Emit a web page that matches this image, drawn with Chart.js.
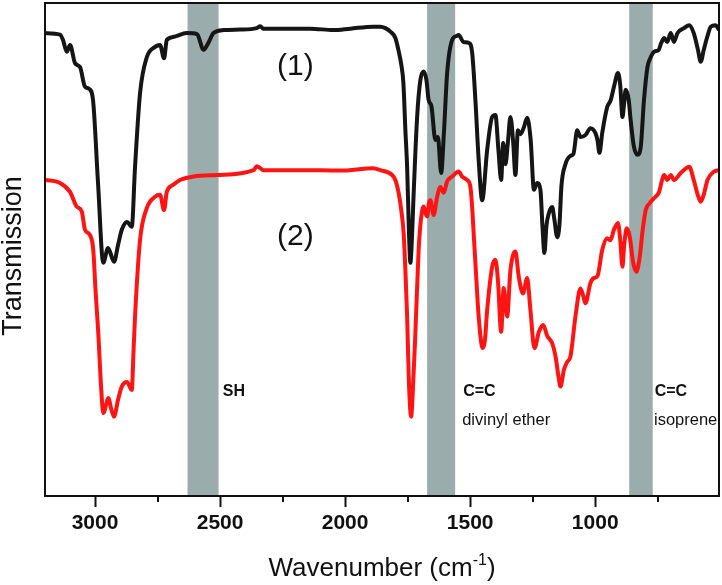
<!DOCTYPE html>
<html>
<head>
<meta charset="utf-8">
<script src="https://cdn.jsdelivr.net/npm/chart.js@4"></script>
<style>
  body { margin: 0; background: #fff; }
</style>
</head>
<body>
<canvas id="ftir" width="722" height="585"></canvas>
<script>
// Spectrum (1): wavenumber (cm-1) and transmission (arbitrary units, 0-100)
const wavenumbers1 = [3200, 3140, 3128, 3113, 3100, 3080, 3060, 3040, 3024, 3008, 2988, 2967, 2948, 2924, 2908, 2893, 2872, 2853, 2840, 2820,
  2793, 2760, 2740, 2724, 2713, 2688, 2633, 2592, 2566, 2547, 2526, 2486, 2419, 2353, 2339, 2327, 2259, 2139, 2047, 1979,
  1887, 1859, 1839, 1819, 1799, 1787, 1775, 1767, 1759, 1752, 1745, 1739, 1733, 1727, 1712, 1699, 1686, 1675, 1666, 1655,
  1639, 1629, 1616, 1605, 1592, 1572, 1555, 1546, 1527, 1505, 1492, 1479, 1466, 1452, 1432, 1412, 1399, 1387, 1376, 1368,
  1359, 1349, 1339, 1328, 1319, 1309, 1299, 1285, 1272, 1258, 1245, 1232, 1219, 1211, 1203, 1195, 1185, 1172, 1163, 1152,
  1143, 1135, 1119, 1099, 1087, 1072, 1059, 1039, 1019, 999, 991, 983, 972, 952, 938, 925, 909, 900, 891, 885,
  878, 866, 858, 845, 831, 818, 805, 791, 778, 765, 746, 736, 724, 712, 698, 685, 671, 645, 624, 606,
  590, 578, 566, 551, 538, 518, 505];
const transmission1 = [93.9, 93.6, 92.5, 90.1, 91.5, 87.8, 87.0, 83.0, 82.6, 80.3, 63.5, 47.3, 50.3, 47.5, 50.9, 54.0, 55.6, 54.6, 66.7, 81.7,
  89.0, 91.1, 91.5, 88.8, 92.5, 93.1, 93.9, 93.7, 90.5, 91.9, 93.9, 94.5, 94.6, 94.9, 95.3, 94.8, 94.8, 94.8, 94.5, 94.8,
  95.2, 95.2, 94.9, 94.2, 92.9, 90.5, 87.4, 83.8, 74.2, 66.7, 54.0, 47.3, 52.0, 60.0, 76.9, 84.4, 86.1, 84.4, 80.3, 79.1,
  72.2, 72.8, 65.5, 73.6, 85.8, 92.5, 93.3, 93.5, 92.1, 91.9, 89.9, 80.3, 68.2, 60.0, 70.2, 76.9, 77.3, 70.2, 64.1, 71.6,
  67.3, 71.8, 76.9, 71.8, 65.1, 74.2, 73.4, 74.8, 76.7, 72.2, 62.1, 63.5, 62.1, 54.8, 49.3, 54.8, 57.4, 58.6, 56.0, 52.5,
  55.0, 62.9, 67.3, 69.0, 69.4, 74.2, 72.8, 73.2, 74.6, 73.6, 72.2, 69.6, 73.6, 78.9, 80.3, 83.0, 85.8, 83.4, 76.9, 79.3,
  82.4, 80.3, 76.1, 70.8, 69.2, 70.8, 80.3, 87.0, 89.0, 90.1, 90.5, 91.9, 92.9, 92.1, 93.9, 92.1, 93.9, 94.9, 95.5, 93.9,
  90.7, 88.1, 90.5, 93.3, 95.2, 95.5, 94.5];

// Spectrum (2)
const wavenumbers2 = [3200, 3140, 3100, 3073, 3053, 3040, 3020, 3007, 2998, 2987, 2975, 2967, 2946, 2936, 2924, 2908, 2893, 2872, 2853, 2846,
  2840, 2820, 2793, 2760, 2740, 2724, 2713, 2688, 2660, 2606, 2513, 2366, 2353, 2339, 2327, 2179, 2019, 1887, 1859, 1812,
  1799, 1786, 1775, 1766, 1759, 1752, 1745, 1736, 1729, 1719, 1706, 1697, 1686, 1679, 1672, 1665, 1659, 1646, 1632, 1619,
  1606, 1592, 1572, 1546, 1532, 1512, 1499, 1491, 1486, 1475, 1466, 1450, 1441, 1432, 1412, 1399, 1389, 1376, 1366, 1352,
  1339, 1319, 1306, 1289, 1272, 1259, 1243, 1225, 1208, 1192, 1172, 1159, 1147, 1139, 1125, 1112, 1099, 1079, 1059, 1049,
  1039, 1019, 1006, 991, 972, 952, 939, 925, 909, 900, 891, 884, 874, 862, 848, 835, 822, 810, 798, 782,
  765, 746, 724, 712, 698, 685, 658, 624, 606, 590, 578, 566, 551, 525, 505];
const transmission2 = [64.1, 63.5, 61.7, 58.7, 57.7, 54.0, 52.9, 49.9, 41.8, 33.1, 21.5, 16.8, 19.9, 17.8, 16.1, 19.5, 22.2, 23.1, 21.5, 29.4,
  36.4, 51.9, 58.4, 60.7, 61.1, 58.0, 61.7, 63.1, 64.1, 64.8, 65.1, 66.1, 66.9, 66.5, 66.1, 66.1, 66.0, 66.5, 66.1, 65.1,
  64.1, 61.5, 57.8, 53.3, 45.8, 36.4, 23.3, 16.1, 21.5, 33.1, 49.9, 56.0, 58.7, 57.4, 56.7, 59.4, 60.0, 57.0, 60.7, 62.7,
  61.5, 63.8, 64.8, 65.8, 64.8, 64.1, 62.7, 57.8, 53.3, 43.8, 36.4, 30.0, 31.6, 37.7, 46.5, 47.9, 43.8, 33.3, 42.2, 36.4,
  45.8, 49.6, 44.6, 41.1, 44.2, 37.7, 30.0, 33.3, 34.7, 32.5, 31.0, 28.4, 24.3, 22.2, 25.6, 27.2, 28.3, 36.4, 42.1, 40.8,
  39.1, 43.2, 44.2, 44.6, 49.9, 52.3, 51.9, 54.0, 55.4, 52.0, 46.5, 50.9, 54.3, 52.6, 47.3, 45.5, 48.5, 54.0, 58.0, 59.4,
  60.4, 61.5, 65.1, 64.1, 65.1, 64.1, 65.5, 66.8, 64.1, 61.1, 59.7, 61.1, 64.1, 65.8, 66.1];

// shaded assignment bands (cm-1)
const bandFrom = [2630, 1672, 864];
const bandTo = [2506, 1560, 770];

const majorTicks = [3000, 2500, 2000, 1500, 1000];
const minorTicks = [2750, 2250, 1750, 1250, 750];

const toPoints = (xs, ys) => xs.map((x, i) => ({ x: x, y: ys[i] }));

const SANS = '"Liberation Sans", Arial, Helvetica, sans-serif';

// bands, frame, extra ticks, axis titles and annotations
const decorations = {
  id: 'decorations',
  beforeDatasetsDraw(chart) {
    const { ctx, chartArea, scales } = chart;
    ctx.save();
    ctx.fillStyle = '#9aacab';
    bandFrom.forEach((from, i) => {
      const x1 = scales.x.getPixelForValue(from);
      const x2 = scales.x.getPixelForValue(bandTo[i]);
      ctx.fillRect(x1, chartArea.top, x2 - x1, chartArea.bottom - chartArea.top);
    });
    ctx.restore();
  },
  afterDraw(chart) {
    const { ctx, chartArea, scales } = chart;
    const x = scales.x, y = scales.y;
    ctx.save();

    // frame
    ctx.strokeStyle = '#111';
    ctx.lineWidth = 2;
    ctx.strokeRect(chartArea.left, chartArea.top, chartArea.right - chartArea.left, chartArea.bottom - chartArea.top);

    // minor ticks
    minorTicks.forEach(v => {
      const px = Math.round(x.getPixelForValue(v));
      ctx.beginPath();
      ctx.moveTo(px, chartArea.bottom);
      ctx.lineTo(px, chartArea.bottom + 6);
      ctx.stroke();
    });

    ctx.fillStyle = '#111';

    // x title with superscript
    ctx.font = '26px ' + SANS;
    ctx.textBaseline = 'alphabetic';
    const part1 = 'Wavenumber (cm';
    const sup = '-1';
    const part3 = ')';
    const w1 = ctx.measureText(part1).width;
    const w3 = ctx.measureText(part3).width;
    ctx.font = '16px ' + SANS;
    const w2 = ctx.measureText(sup).width;
    const cx = (chartArea.left + chartArea.right) / 2;
    let tx = cx - (w1 + w2 + w3) / 2;
    const base = 576;
    ctx.textAlign = 'left';
    ctx.font = '26px ' + SANS;
    ctx.fillText(part1, tx, base);
    ctx.font = '16px ' + SANS;
    ctx.fillText(sup, tx + w1, base - 11);
    ctx.font = '26px ' + SANS;
    ctx.fillText(part3, tx + w1 + w2, base);

    // y title
    ctx.save();
    ctx.translate(21, 256);
    ctx.rotate(-Math.PI / 2);
    ctx.textAlign = 'center';
    ctx.font = '27px ' + SANS;
    ctx.fillText('Transmission', 0, 0);
    ctx.restore();

    // curve labels
    ctx.textAlign = 'center';
    ctx.textBaseline = 'middle';
    ctx.font = '30px ' + SANS;
    ctx.fillText('(1)', x.getPixelForValue(2199), y.getPixelForValue(87.0));
    ctx.fillText('(2)', x.getPixelForValue(2199), y.getPixelForValue(52.5));

    // band labels
    ctx.textAlign = 'left';
    ctx.textBaseline = 'alphabetic';
    ctx.font = 'bold 16px ' + SANS;
    ctx.fillText('SH', x.getPixelForValue(2489), y.getPixelForValue(20.3));
    ctx.fillText('C=C', x.getPixelForValue(1528), y.getPixelForValue(20.3));
    ctx.fillText('C=C', x.getPixelForValue(762), y.getPixelForValue(20.3));
    ctx.font = '16.5px ' + SANS;
    ctx.fillText('divinyl ether', x.getPixelForValue(1532), y.getPixelForValue(14.4));
    ctx.fillText('isoprene', x.getPixelForValue(765), y.getPixelForValue(14.4));

    ctx.restore();
  }
};

new Chart(document.getElementById('ftir'), {
  type: 'line',
  data: {
    datasets: [
      {
        label: '(1)',
        data: toPoints(wavenumbers1, transmission1),
        borderColor: '#151515',
        borderWidth: 4,
        pointRadius: 0,
        cubicInterpolationMode: 'monotone'
      },
      {
        label: '(2)',
        data: toPoints(wavenumbers2, transmission2),
        borderColor: '#ff1414',
        borderWidth: 4,
        pointRadius: 0,
        cubicInterpolationMode: 'monotone'
      }
    ]
  },
  options: {
    responsive: false,
    animation: false,
    layout: { padding: { left: 45, right: 3, top: 3, bottom: 0 } },
    plugins: {
      legend: { display: false },
      tooltip: { enabled: false }
    },
    scales: {
      x: {
        type: 'linear',
        reverse: true,
        min: 505,
        max: 3200,
        afterBuildTicks: (scale) => {
          scale.ticks = majorTicks.map(v => ({ value: v }));
        },
        afterFit: (scale) => { scale.height = 89; },
        grid: {
          drawOnChartArea: false,
          tickLength: 11,
          tickWidth: 2,
          tickColor: '#111'
        },
        border: { display: false },
        ticks: {
          maxRotation: 0,
          padding: 4,
          color: '#111',
          font: { family: SANS, size: 21, weight: 'bold' },
          callback: (value) => String(value)
        }
      },
      y: {
        display: false,
        min: 0,
        max: 100
      }
    }
  },
  plugins: [decorations]
});
</script>
</body>
</html>
